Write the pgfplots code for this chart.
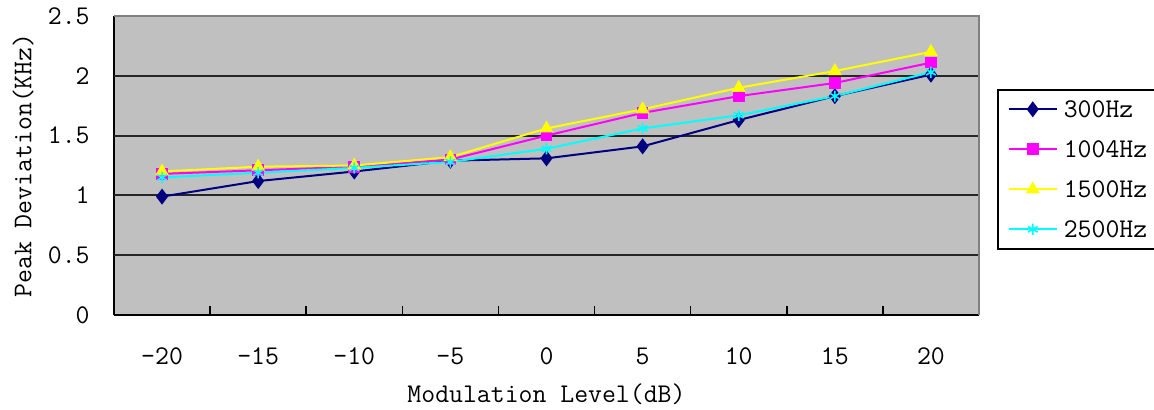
\documentclass[border=0pt]{standalone}
\usepackage{pgfplots}
\pgfplotsset{compat=1.18}
\definecolor{bggray}{HTML}{C0C0C0}
\definecolor{navyc}{HTML}{000080}
\definecolor{magc}{HTML}{FF00FF}
\definecolor{yelc}{HTML}{FFFF00}
\definecolor{cyac}{HTML}{00FFFF}
\definecolor{bordgray}{HTML}{808080}
\newcommand{\chartfont}{\ttfamily\fontsize{13.5}{16}\selectfont}
\begin{document}
\chartfont
\begin{tikzpicture}
\begin{axis}[
  at={(0,0)}, anchor=south west,
  scale only axis, width=432.5pt, height=149.5pt,
  xmin=-0.5, xmax=8.5, ymin=0, ymax=2.5,
  axis lines=left, axis line style={-, black, line width=1pt},
  axis background/.style={fill=bggray},
  xtick={0,...,8},
  xticklabels={-20,-15,-10,-5,0,5,10,15,20},
  minor xtick={0.5,1.5,2.5,3.5,4.5,5.5,6.5,7.5},
  ytick={0,0.5,1,1.5,2,2.5},
  yticklabels={0,0.5,1,1.5,2,2.5},
  major tick length=0pt, minor tick length=4.5pt, tick align=inside,
  minor tick style={black, line width=0.8pt},
  extra y ticks={0.5,1,1.5,2}, extra y tick labels={},
  extra y tick style={grid=major, major tick length=0pt},
  major grid style={black!85, line width=1pt},
  yticklabel style={inner sep=0pt, anchor=east, xshift=-12pt, font=\chartfont},
  xticklabel style={inner sep=0pt, anchor=center, yshift=-20.5pt, font=\chartfont},
  xlabel={Modulation Level(dB)},
  ylabel={Peak Deviation(KHz)},
  xlabel style={at={(axis description cs:0.5,-0.2642)}, anchor=center, inner sep=0pt, font=\chartfont},
  ylabel style={at={(axis description cs:-0.1052,0.5)}, anchor=center, inner sep=0pt, font=\chartfont},
  legend style={at={(axis description cs:1.0208,0.7559)}, anchor=north west,
    draw=black, line width=0.8pt, fill=white, inner xsep=5pt, inner ysep=4.5pt,
    row sep=9.5pt, font=\chartfont,
    nodes={inner xsep=3pt, inner ysep=1pt, text height=8.5pt, text depth=0pt}},
  legend cell align=left,
  legend image code/.code={\draw[mark repeat=2,mark phase=2,#1] plot coordinates {(0pt,0pt)(12pt,0pt)(24pt,0pt)};},
  clip=false,
]
\addplot[navyc, line width=1pt, mark=diamond*, mark size=3.2pt, mark options={solid, fill=navyc}]
  coordinates {(0,0.99)(1,1.12)(2,1.20)(3,1.29)(4,1.31)(5,1.41)(6,1.63)(7,1.83)(8,2.01)};
\addlegendentry{300Hz}
\addplot[magc, line width=1pt, mark=square*, mark size=2.4pt, mark options={solid, fill=magc}]
  coordinates {(0,1.18)(1,1.21)(2,1.24)(3,1.30)(4,1.50)(5,1.69)(6,1.83)(7,1.94)(8,2.11)};
\addlegendentry{1004Hz}
\addplot[yelc, line width=1pt, mark=triangle*, mark size=3pt, mark options={solid, fill=yelc}]
  coordinates {(0,1.20)(1,1.24)(2,1.25)(3,1.32)(4,1.56)(5,1.72)(6,1.90)(7,2.04)(8,2.20)};
\addlegendentry{1500Hz}
\addplot[cyac, line width=1pt, mark=asterisk, mark size=2.8pt, mark options={solid, line width=0.8pt}]
  coordinates {(0,1.15)(1,1.19)(2,1.23)(3,1.28)(4,1.39)(5,1.56)(6,1.67)(7,1.83)(8,2.03)};
\addlegendentry{2500Hz}
\draw[bordgray, line width=1pt] (rel axis cs:0,1) -- (rel axis cs:1,1) -- (rel axis cs:1,0);
\end{axis}
\pgfresetboundingbox
\path[use as bounding box] (-57pt,-47pt) rectangle (520pt,157.5pt);
\end{tikzpicture}
\end{document}
